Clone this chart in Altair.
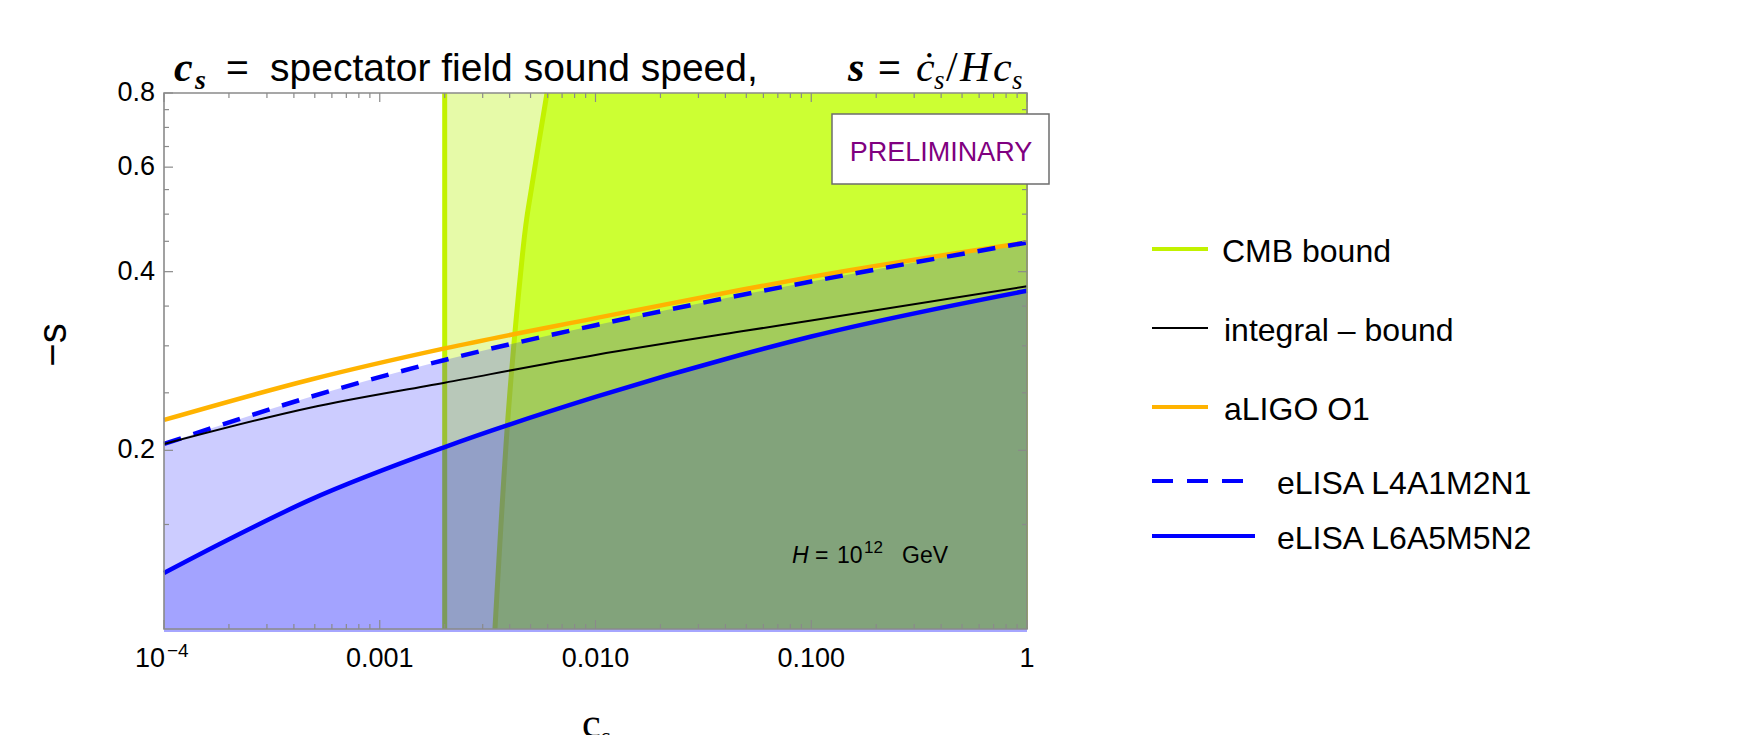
import altair as alt
import pandas as pd

# ---------------- data ----------------
C_MAIN = [1e-4, 4.75e-4, 2e-3, 1e-2, 4.68e-2, 0.1, 1.0]
S_ALIGO = [0.225, 0.263, 0.297, 0.334, 0.3725, 0.392, 0.448]
S_ELISA1 = [0.205, 0.246, 0.284, 0.325, 0.365, 0.385, 0.448]
S_INTEGRAL = [0.205, 0.236, 0.260, 0.2895, 0.317, 0.331, 0.378]
C_ELISA2 = [1e-4, 1.95e-4, 4.75e-4, 2e-3, 1e-2, 4.68e-2, 0.1, 1.0]
S_ELISA2 = [0.1243, 0.141, 0.165, 0.2025, 0.246, 0.2895, 0.311, 0.3715]

CMB_C_MIN = 0.002
CMB_EDGE_S = [0.1, 0.2276, 0.435, 0.56, 0.8]
CMB_EDGE_C = [0.00342, 0.00393, 0.00461, 0.00508, 0.00596]

X_MAJOR = [1e-4, 1e-3, 1e-2, 1e-1, 1.0]
X_MINOR = [m * d for d in [1e-4, 1e-3, 1e-2, 1e-1] for m in range(2, 10)]
X_LABEL_VALUES = [1e-3, 1e-2, 1e-1, 1.0]
X_LABELS = ["0.001", "0.010", "0.100", "1"]
Y_MAJOR = [0.2, 0.4, 0.6, 0.8]
Y_MINOR = [0.15, 0.25, 0.3, 0.35, 0.45, 0.5, 0.55, 0.65, 0.7, 0.75]
Y_LABELS = ["0.2", "0.4", "0.6", "0.8"]

LEGEND_LABELS = ["CMB bound", "integral \u2013 bound", "aLIGO O1",
                 "eLISA L4A1M2N1", "eLISA L6A5M5N2"]

# ---------------- styles ----------------
W, H = 863, 536
SANS = "Liberation Sans"
SERIF = "Liberation Serif"
GREEN_LINE = "#C2F200"
GREEN_STRONG = "#CCFF33"
GREEN_LIGHT = "#E6FAA8"
ORANGE = "#FFB300"
BLUE = "#0000FF"
FRAME = "#8A8A8A"

xs = alt.Scale(type="log", domain=[1e-4, 1.0], nice=False)
ys = alt.Scale(type="log", domain=[0.1, 0.8], nice=False)


def X(f):
    return alt.X(f, type="quantitative", scale=xs, axis=None)


def Y(f):
    return alt.Y(f, type="quantitative", scale=ys, axis=None)


def txt(s, x, y, size, font=SANS, **kw):
    kw.setdefault("baseline", "alphabetic")
    return alt.Chart(pd.DataFrame({"t": [s]})).mark_text(
        fontSize=size, font=font, **kw
    ).encode(x=alt.value(x), y=alt.value(y), text="t:N")


main = pd.DataFrame({"c": C_MAIN, "aligo": S_ALIGO, "elisa1": S_ELISA1, "integ": S_INTEGRAL})
el2 = pd.DataFrame({"c": C_ELISA2, "s": S_ELISA2})
edge = pd.DataFrame({"c": CMB_EDGE_C, "s": CMB_EDGE_S})
band = pd.DataFrame({"x1": [CMB_C_MIN], "x2": [1.0]})

layers = []
# CMB regions
layers.append(alt.Chart(band).mark_rect(color=GREEN_LIGHT).encode(
    x=X("x1"), x2="x2", y=alt.value(0), y2=alt.value(H)))
layers.append(alt.Chart(edge).mark_area(orient="horizontal", color=GREEN_STRONG,
                                        interpolate="cardinal").encode(
    y=Y("s"), x=X("c"), x2=alt.datum(1.0)))
layers.append(alt.Chart(band).mark_rule(color=GREEN_LINE, strokeWidth=5).encode(
    x=X("x1"), y=alt.value(0), y2=alt.value(H)))
layers.append(alt.Chart(band).mark_rule(color=GREEN_LINE, strokeWidth=2).encode(
    x=X("x2"), y=alt.value(0), y2=alt.value(H)))
layers.append(alt.Chart(edge).mark_line(color=GREEN_LINE, strokeWidth=5,
                                        interpolate="cardinal").encode(
    x=X("c"), y=Y("s"), order="s:Q"))
# eLISA shaded regions
layers.append(alt.Chart(main).mark_area(color=BLUE, opacity=0.2, interpolate="monotone").encode(
    x=X("c"), y=Y("elisa1"), y2=alt.datum(0.1)))
layers.append(alt.Chart(el2).mark_area(color=BLUE, opacity=0.2, interpolate="monotone").encode(
    x=X("c"), y=Y("s"), y2=alt.datum(0.1)))
# thin strip of the fill showing just below the frame
layers.append(alt.Chart(band).mark_rect(color="#A6A6FF").encode(
    x=alt.value(0), x2=alt.value(W), y=alt.value(H), y2=alt.value(H + 3)))
# curves
layers.append(alt.Chart(main).mark_line(color=ORANGE, strokeWidth=4.5, interpolate="monotone").encode(
    x=X("c"), y=Y("aligo")))
layers.append(alt.Chart(main).mark_line(color=BLUE, strokeWidth=4.5, strokeDash=[18, 13],
                                        interpolate="monotone").encode(
    x=X("c"), y=Y("elisa1")))
layers.append(alt.Chart(main).mark_line(color="black", strokeWidth=2, interpolate="monotone").encode(
    x=X("c"), y=Y("integ")))
layers.append(alt.Chart(el2).mark_line(color=BLUE, strokeWidth=4.5, interpolate="monotone").encode(
    x=X("c"), y=Y("s")))

# inward ticks on all four sides
xmaj = pd.DataFrame({"v": X_MAJOR})
xmin = pd.DataFrame({"v": X_MINOR})
ymaj = pd.DataFrame({"v": Y_MAJOR})
ymin = pd.DataFrame({"v": Y_MINOR})
for df, ln in [(xmaj, 9), (xmin, 5)]:
    layers.append(alt.Chart(df).mark_rule(color=FRAME, strokeWidth=1.2).encode(
        x=X("v"), y=alt.value(H), y2=alt.value(H - ln)))
    layers.append(alt.Chart(df).mark_rule(color=FRAME, strokeWidth=1.2).encode(
        x=X("v"), y=alt.value(0), y2=alt.value(ln)))
for df, ln in [(ymaj, 9), (ymin, 5)]:
    layers.append(alt.Chart(df).mark_rule(color=FRAME, strokeWidth=1.2).encode(
        y=Y("v"), x=alt.value(0), x2=alt.value(ln)))
    layers.append(alt.Chart(df).mark_rule(color=FRAME, strokeWidth=1.2).encode(
        y=Y("v"), x=alt.value(W), x2=alt.value(W - ln)))

# frame
layers.append(alt.Chart(band).mark_rect(fill=None, stroke=FRAME, strokeWidth=1.6).encode(
    x=alt.value(0), x2=alt.value(W), y=alt.value(0), y2=alt.value(H)))

# tick labels
layers.append(alt.Chart(pd.DataFrame({"v": X_LABEL_VALUES, "lab": X_LABELS})).mark_text(
    fontSize=27, font=SANS, align="center", baseline="alphabetic").encode(
    x=X("v"), y=alt.value(574), text="lab:N"))
first = pd.DataFrame({"v": [X_MAJOR[0]], "a": ["10"], "b": ["\u22124"]})
layers.append(alt.Chart(first).mark_text(fontSize=27, font=SANS, align="center", dx=-14,
                                         baseline="alphabetic").encode(
    x=X("v"), y=alt.value(574), text="a:N"))
layers.append(alt.Chart(first).mark_text(fontSize=19, font=SANS, align="left", dx=3,
                                         baseline="alphabetic").encode(
    x=X("v"), y=alt.value(564), text="b:N"))
layers.append(alt.Chart(pd.DataFrame({"v": Y_MAJOR, "lab": Y_LABELS})).mark_text(
    fontSize=27, font=SANS, align="right", baseline="middle").encode(
    y=Y("v"), x=alt.value(-9), text="lab:N"))

# axis titles
layers.append(txt("\u2212s", -110, 252, 40, angle=270, align="center", baseline="middle"))
layers.append(txt("c", 418, 644, 42, font=SERIF, align="left"))
layers.append(txt("s", 437, 652, 26, font=SERIF, align="left"))

# plot title
TB = -12
layers.append(txt("c", 10, TB, 42, font=SERIF, fontStyle="italic", fontWeight="bold", align="left"))
layers.append(txt("s", 31, TB + 8, 28, font=SERIF, fontStyle="italic", fontWeight="bold", align="left"))
layers.append(txt("=", 62, TB, 39, font=SANS, align="left"))
layers.append(txt("spectator field sound speed,", 106, TB, 39, font=SANS, align="left"))
layers.append(txt("s", 684, TB, 42, font=SERIF, fontStyle="italic", fontWeight="bold", align="left"))
layers.append(txt("=", 714, TB, 39, font=SANS, align="left"))
layers.append(txt("\u010b", 752, TB, 42, font=SERIF, fontStyle="italic", align="left"))
layers.append(txt("s", 770, TB + 8, 27, font=SERIF, fontStyle="italic", align="left"))
layers.append(txt("/", 782, TB, 42, font=SERIF, align="left"))
layers.append(txt("H", 796, TB, 42, font=SERIF, fontStyle="italic", align="left"))
layers.append(txt("c", 829, TB, 42, font=SERIF, fontStyle="italic", align="left"))
layers.append(txt("s", 848, TB + 8, 27, font=SERIF, fontStyle="italic", align="left"))

# PRELIMINARY box
layers.append(alt.Chart(band).mark_rect(fill="white", stroke="#6E6E6E", strokeWidth=1.5).encode(
    x=alt.value(668), x2=alt.value(885), y=alt.value(21), y2=alt.value(91)))
layers.append(txt("PRELIMINARY", 777, 60, 27, color="#800080", align="center", baseline="middle"))

# H annotation
HB = 470
layers.append(txt("H", 628, HB, 23, fontStyle="italic", align="left"))
layers.append(txt("=", 651, HB, 23, align="left"))
layers.append(txt("10", 673, HB, 23, align="left"))
layers.append(txt("12", 700, HB - 10, 17, align="left"))
layers.append(txt("GeV", 738, HB, 23, align="left"))

# legend
LEG = [
    (LEGEND_LABELS[0], 156, 1044, 1058, dict(color=GREEN_LINE, strokeWidth=4)),
    (LEGEND_LABELS[1], 235, 1044, 1060, dict(color="black", strokeWidth=2)),
    (LEGEND_LABELS[2], 314, 1044, 1060, dict(color=ORANGE, strokeWidth=4)),
    (LEGEND_LABELS[3], 388, 1082, 1113, dict(color=BLUE, strokeWidth=4, strokeDash=[21, 14])),
    (LEGEND_LABELS[4], 443, 1091, 1113, dict(color=BLUE, strokeWidth=4)),
]
for lab, ly, x2, tx, sty in LEG:
    layers.append(alt.Chart(band).mark_rule(**sty).encode(
        x=alt.value(988), x2=alt.value(x2), y=alt.value(ly)))
    layers.append(txt(lab, tx, ly + 3, 32, align="left", baseline="middle"))

chart = alt.layer(*layers).properties(
    width=W, height=H,
    autosize=alt.AutoSizeParams(type="none"),
    padding={"left": 164, "top": 93, "right": 1762 - 164 - W, "bottom": 735 - 93 - H},
    background="white",
).configure_view(stroke=None)

chart.save("out.html", embed_options={"renderer": "svg", "actions": False})
